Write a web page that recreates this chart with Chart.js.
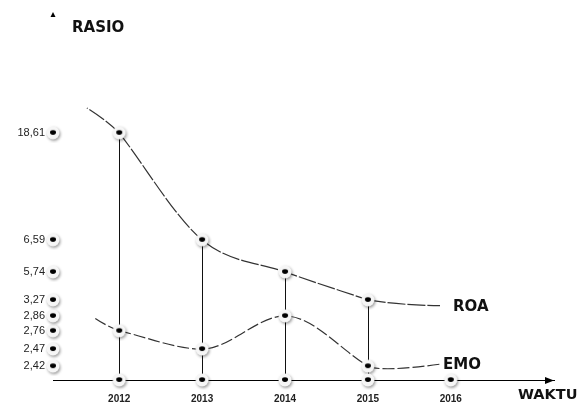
<!DOCTYPE html>
<html>
<head>
<meta charset="utf-8">
<script src="https://cdn.jsdelivr.net/npm/chart.js@4.4.1/dist/chart.umd.min.js"></script>
<style>
  html, body { margin: 0; padding: 0; background: #fff; }
  canvas { display: block; }
</style>
</head>
<body>
<canvas id="myChart" width="582" height="404"></canvas>
<script>
// Values
const years = [2012, 2013, 2014, 2015, 2016];
const roaValues = [18.61, 6.59, 5.74, 3.27];
const emoValues = [2.76, 2.47, 2.86, 2.42];
// Tick labels on the RASIO axis, bottom to top
const rasioTicks = [2.42, 2.47, 2.76, 2.86, 3.27, 5.74, 6.59, 18.61];

// The RASIO axis in the picture is not to scale: each tick has its own spot
// (0 = bottom, 1 = top), values in between are placed linearly.
class RasioScale extends Chart.LinearScale {
    static id = 'rasio';
    static defaults = {};

    buildTicks() {
        this.min = 0;
        this.max = 1;
        return rasioTicks.map(v => ({ value: v }));
    }

    toDecimal(value) {
        const spots = this.options.spots;
        let i = 0;
        while (i < rasioTicks.length - 2 && value > rasioTicks[i + 1]) i++;
        const t = (value - rasioTicks[i]) / (rasioTicks[i + 1] - rasioTicks[i]);
        return spots[i] + t * (spots[i + 1] - spots[i]);
    }

    getPixelForValue(value) {
        if (value === null || value === undefined) return NaN;
        return this.getPixelForDecimal(this.toDecimal(value));
    }

    getValueForPixel(pixel) {
        const spots = this.options.spots;
        const d = this.getDecimalForPixel(pixel);
        let i = 0;
        while (i < spots.length - 2 && d > spots[i + 1]) i++;
        const t = (d - spots[i]) / (spots[i + 1] - spots[i]);
        return rasioTicks[i] + t * (rasioTicks[i + 1] - rasioTicks[i]);
    }
}
Chart.register(RasioScale);

// Marker: black dot on a small white disc with a grey shadow
function makeDot() {
    const c = document.createElement('canvas');
    c.width = 20;
    c.height = 20;
    const g = c.getContext('2d');
    g.shadowColor = 'rgba(0,0,0,0.4)';
    g.shadowBlur = 3;
    g.shadowOffsetX = 1;
    g.shadowOffsetY = 1.5;
    g.fillStyle = '#f6f6f6';
    g.beginPath();
    g.arc(10, 10, 6.5, 0, Math.PI * 2);
    g.fill();
    g.shadowColor = 'transparent';
    g.fillStyle = '#000';
    g.beginPath();
    g.ellipse(10, 9.6, 3, 2.4, 0, 0, Math.PI * 2);
    g.fill();
    return c;
}
const dot = makeDot();

// Drop lines, curve ends, axis dots, arrows and the words on the diagram
const diagramPlugin = {
    id: 'diagram',
    beforeDatasetsDraw(chart, args, opts) {
        const ctx = chart.ctx;
        const area = chart.chartArea;
        const xs = chart.scales.x;
        const sp = xs.getPixelForValue(years[1]) - xs.getPixelForValue(years[0]);

        // vertical lines from each ROA point down to the time axis
        ctx.save();
        ctx.strokeStyle = '#111';
        ctx.lineWidth = 1;
        chart.getDatasetMeta(0).data.forEach(p => {
            ctx.beginPath();
            ctx.moveTo(Math.round(p.x) + 0.5, p.y);
            ctx.lineTo(Math.round(p.x) + 0.5, area.bottom);
            ctx.stroke();
        });

        // short free ends of each curve
        chart.data.datasets.forEach((ds, di) => {
            const pts = chart.getDatasetMeta(di).data;
            const tail = opts.tails[di];
            const first = pts[0];
            const last = pts[pts.length - 1];
            const nextX = xs.getPixelForValue(years[pts.length]);
            ctx.strokeStyle = ds.borderColor;
            ctx.lineWidth = ds.borderWidth;
            ctx.setLineDash(ds.borderDash);
            ctx.beginPath();
            ctx.moveTo(first.x, first.y);
            ctx.quadraticCurveTo(first.x + tail.startCtrl[0] * sp, first.y + tail.startCtrl[1] * sp,
                first.x + tail.start[0] * sp, first.y + tail.start[1] * sp);
            ctx.stroke();
            const ex = nextX + tail.end[0] * sp;
            const ey = last.y + tail.end[1] * sp;
            ctx.beginPath();
            ctx.moveTo(last.x, last.y);
            ctx.quadraticCurveTo(last.x + tail.endCtrl[0] * sp, last.y + tail.endCtrl[1] * sp, ex, ey);
            ctx.stroke();
            tail.labelAt = [ex, ey];
        });
        ctx.restore();
    },
    afterDatasetsDraw(chart, args, opts) {
        const ctx = chart.ctx;
        const area = chart.chartArea;
        const xs = chart.scales.x;
        const ys = chart.scales.y;

        // dots on both axes at each tick
        xs.ticks.forEach(t => {
            ctx.drawImage(dot, xs.getPixelForValue(t.value) - 10, area.bottom - 10);
        });
        ys.ticks.forEach(t => {
            ctx.drawImage(dot, area.left - 10, ys.getPixelForValue(t.value) - 10);
        });

        ctx.save();
        ctx.fillStyle = '#000';
        // arrow heads
        ctx.beginPath();
        ctx.moveTo(area.right, area.bottom + 0.5);
        ctx.lineTo(area.right - 9, area.bottom - 3);
        ctx.lineTo(area.right - 9, area.bottom + 4);
        ctx.closePath();
        ctx.fill();
        ctx.beginPath();
        ctx.moveTo(area.left, area.top - 4);
        ctx.lineTo(area.left - 2.5, area.top + 1);
        ctx.lineTo(area.left + 2.5, area.top + 1);
        ctx.closePath();
        ctx.fill();

        // words
        ctx.font = 'bold 15px "DejaVu Sans"';
        ctx.textBaseline = 'middle';
        ctx.textAlign = 'left';
        ctx.fillStyle = '#111';
        ctx.fillText('RASIO', area.left + 19, area.top + 12);
        chart.data.datasets.forEach((ds, di) => {
            const tail = opts.tails[di];
            ctx.fillText(ds.label, tail.labelAt[0] + tail.labelGap, tail.labelAt[1] + 1);
        });
        ctx.font = 'bold 14.5px "DejaVu Sans"';
        ctx.fillText('WAKTU', area.right - 36, area.bottom + 15);
        ctx.restore();
    }
};

const lineStyle = {
    borderColor: '#333',
    borderWidth: 1.2,
    fill: false,
    tension: 0.4,
    cubicInterpolationMode: 'monotone',
    pointStyle: dot,
    pointRadius: 7,
    clip: false
};

const myChart = new Chart(document.getElementById('myChart'), {
    type: 'line',
    data: {
        datasets: [
            Object.assign({
                label: 'ROA',
                data: roaValues.map((v, i) => ({ x: years[i], y: v })),
                borderDash: [18, 2]
            }, lineStyle),
            Object.assign({
                label: 'EMO',
                data: emoValues.map((v, i) => ({ x: years[i], y: v })),
                borderDash: [12, 3]
            }, lineStyle)
        ]
    },
    options: {
        responsive: false,
        devicePixelRatio: 1,
        animation: false,
        events: [],
        layout: {
            padding: { top: 16, right: 28, left: 0, bottom: 0 }
        },
        plugins: {
            legend: { display: false },
            tooltip: { enabled: false },
            diagram: {
                tails: [
                    { start: [-0.39, -0.30], startCtrl: [-0.146, -0.146],
                      end: [-0.13, 0.07], endCtrl: [0.34, 0.06], labelGap: 13 },
                    { start: [-0.30, -0.158], startCtrl: [-0.158, -0.061],
                      end: [-0.13, -0.024], endCtrl: [0.16, 0.073], labelGap: 3 }
                ]
            }
        },
        scales: {
            x: {
                type: 'linear',
                min: 2011.2014,
                max: 2017.2449,
                grid: { display: false, drawTicks: false },
                border: { display: true, color: '#000', width: 1 },
                afterBuildTicks: scale => {
                    scale.ticks = years.map(v => ({ value: v }));
                },
                afterFit: scale => { scale.height = 24; },
                ticks: {
                    callback: v => String(v),
                    font: { family: 'Liberation Sans', size: 10, weight: 'bold' },
                    color: '#222',
                    padding: 13,
                    maxRotation: 0,
                    autoSkip: false
                }
            },
            y: {
                type: 'rasio',
                position: 'left',
                spots: [0.038, 0.085, 0.135, 0.176, 0.220, 0.297, 0.385, 0.679],
                grid: { display: false, drawTicks: false },
                border: { display: false },
                afterFit: scale => { scale.width = 53; },
                ticks: {
                    callback: v => v.toFixed(2).replace('.', ','),
                    font: { family: 'Liberation Sans', size: 11 },
                    color: '#222',
                    padding: 8,
                    autoSkip: false
                }
            }
        }
    },
    plugins: [diagramPlugin]
});
</script>
</body>
</html>
